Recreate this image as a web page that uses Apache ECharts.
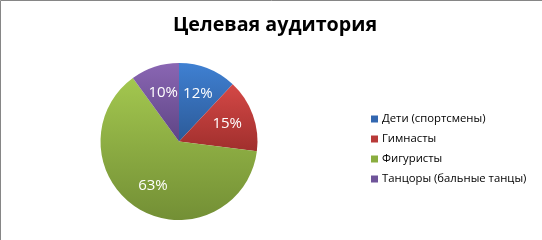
<!DOCTYPE html>
<html><head><meta charset="utf-8">
<script src="https://cdn.jsdelivr.net/npm/echarts@6/dist/echarts.min.js"></script>
<style>html,body{margin:0;padding:0;background:#fff}#c{width:542px;height:240px}</style>
</head><body><div id="c"></div>
<script>
const categories = ['Дети (спортсмены)', 'Гимнасты', 'Фигуристы', 'Танцоры (бальные танцы)'];
const values = [12, 15, 63, 10];
const topColors = ['#3f80d2', '#d44846', '#a3c74f', '#8a66b3'];
const bottomColors = ['#2c5a98', '#a02f2d', '#738f35', '#5e4585'];
const legendColors = ['#3267b0', '#b83a38', '#8aad3f', '#6f549a'];
const titleText = 'Целевая аудитория';

const chart = echarts.init(document.getElementById('c'), null, {renderer: 'canvas'});
function grad(i) {
  return new echarts.graphic.LinearGradient(0, 0, 0, 1, [
    {offset: 0, color: topColors[i]}, {offset: 1, color: bottomColors[i]}
  ]);
}
const data = categories.map((n, i) => ({name: n, value: values[i], itemStyle: {color: grad(i)}}));
const labelData = categories.map((n, i) => ({name: n, value: values[i]}));
chart.setOption({
  animation: false,
  color: legendColors,
  title: {
    text: titleText, left: 270, textAlign: 'center', top: 10,
    textStyle: {fontFamily: 'Open Sans', fontWeight: 'bold', fontSize: 19.7, color: '#000'}
  },
  legend: {
    orient: 'vertical', left: 366, top: 107,
    icon: 'rect', itemWidth: 7, itemHeight: 7, itemGap: 6,
    data: categories.map((n, i) => ({name: n, itemStyle: {color: legendColors[i]}})),
    textStyle: {fontFamily: 'Open Sans', fontSize: 11.3, color: '#000', lineHeight: 14, padding: [0, 0, 0, -1]}
  },
  graphic: [{
    type: 'polyline', silent: true,
    shape: {points: [[0.5, 240], [0.5, 0.5], [542, 0.5]]},
    style: {stroke: '#868686', lineWidth: 1, fill: null}
  }],
  series: [{
    type: 'pie', radius: 78.5, center: [179, 141.5], startAngle: 90, clockwise: true,
    label: {show: false}, labelLine: {show: false}, data: data, silent: true
  }, {
    type: 'pie', radius: [18, 78.5], center: [179, 141.5], startAngle: 90, clockwise: true,
    itemStyle: {color: 'rgba(0,0,0,0)'}, silent: true, legendHoverLink: false,
    label: {show: true, position: 'inside', formatter: p => p.value + '%',
      fontFamily: 'Open Sans', fontSize: 15, color: '#fff'},
    labelLine: {show: false}, data: labelData
  }]
});
</script></body></html>
